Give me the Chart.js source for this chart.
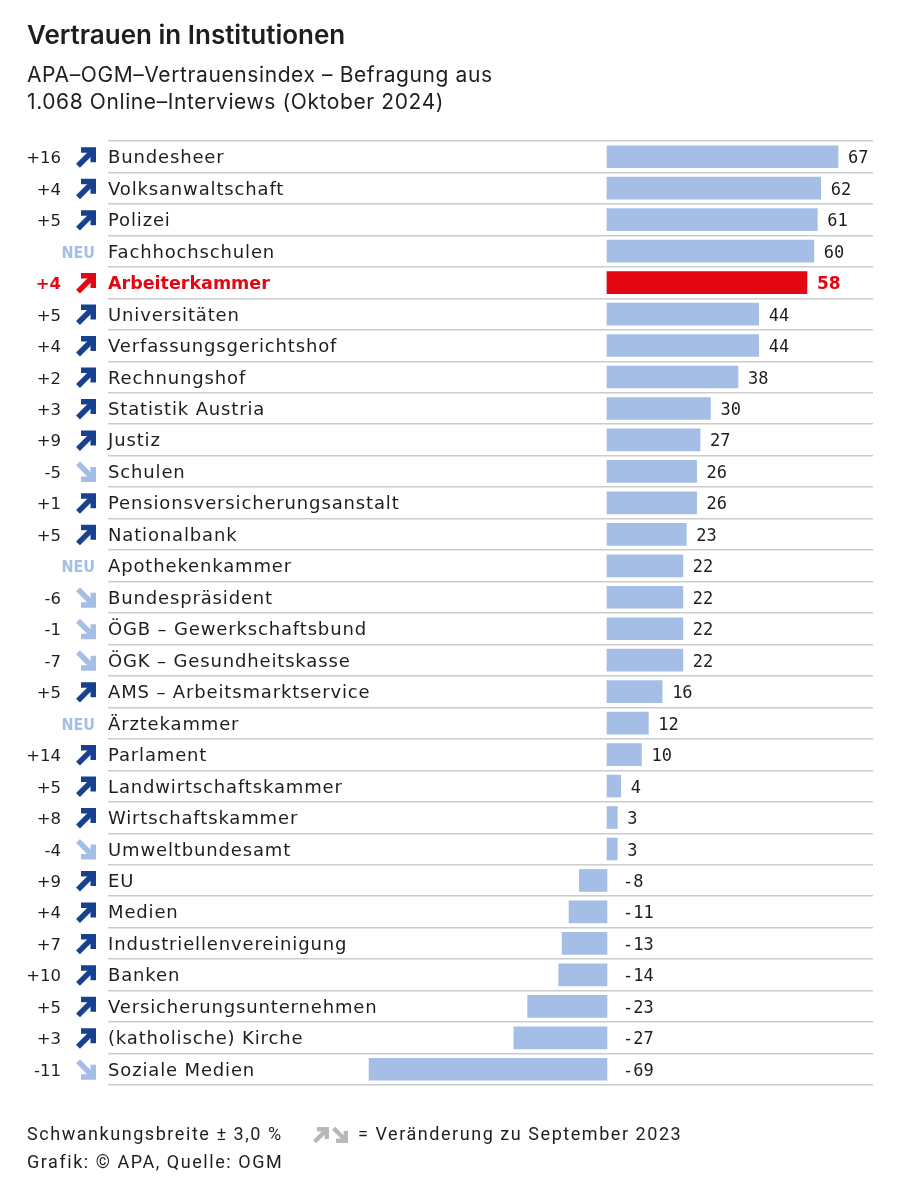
<!DOCTYPE html>
<html lang="de">
<head>
<meta charset="utf-8">
<title>Vertrauen in Institutionen</title>
<script src="https://cdn.jsdelivr.net/npm/chart.js@4.4.1/dist/chart.umd.min.js"></script>
<style>
  html, body { margin: 0; padding: 0; background: #fff; }
  #wrap { position: relative; width: 900px; height: 1197px; overflow: hidden; }
  #chart { position: absolute; left: 0; top: 0; }
  .txt { position: absolute; left: 27px; color: #1e1e1e; white-space: nowrap; }
  #title { top: 19px; font: 600 26px "Inter", sans-serif; letter-spacing: 0; }
  #sub { top: 61px; font: 400 21px/27px "Inter", sans-serif; letter-spacing: 0.6px; }
  .foot { font: 400 18px "Roboto", sans-serif; letter-spacing: 1.55px; }
  #foot1 { top: 1123px; }
  #foot2 { top: 1151px; }
  #foot3 { top: 1123px; left: 358px; }
</style>
</head>
<body>
<div id="wrap">
  <canvas id="chart" width="900" height="1197"></canvas>
  <div class="txt" id="title">Vertrauen in Institutionen</div>
  <div class="txt" id="sub">APA–OGM–Vertrauensindex – Befragung aus<br>1.068 Online–Interviews (Oktober 2024)</div>
  <div class="txt foot" id="foot1">Schwankungsbreite ± 3,0 %</div>
  <div class="txt foot" id="foot3">= Veränderung zu September 2023</div>
  <div class="txt foot" id="foot2">Grafik: © APA, Quelle: OGM</div>
</div>
<script>
// =============================
// Data
// =============================
const institutions = [
  "Bundesheer", "Volksanwaltschaft", "Polizei", "Fachhochschulen", "Arbeiterkammer",
  "Universitäten", "Verfassungsgerichtshof", "Rechnungshof", "Statistik Austria", "Justiz",
  "Schulen", "Pensionsversicherungsanstalt", "Nationalbank", "Apothekenkammer", "Bundespräsident",
  "ÖGB – Gewerkschaftsbund", "ÖGK – Gesundheitskasse", "AMS – Arbeitsmarktservice", "Ärztekammer", "Parlament",
  "Landwirtschaftskammer", "Wirtschaftskammer", "Umweltbundesamt", "EU", "Medien",
  "Industriellenvereinigung", "Banken", "Versicherungsunternehmen", "(katholische) Kirche", "Soziale Medien"
];
const trustIndex = [
  67, 62, 61, 60, 58, 44, 44, 38, 30, 27,
  26, 26, 23, 22, 22, 22, 22, 16, 12, 10,
  4, 3, 3, -8, -11, -13, -14, -23, -27, -69
];
const changes = [
  "+16", "+4", "+5", "NEU", "+4", "+5", "+4", "+2", "+3", "+9",
  "-5", "+1", "+5", "NEU", "-6", "-1", "-7", "+5", "NEU", "+14",
  "+5", "+8", "-4", "+9", "+4", "+7", "+10", "+5", "+3", "-11"
];
const highlight = "Arbeiterkammer";

// =============================
// Colours
// =============================
const RED = "#e30613";
const DARK_BLUE = "#17408f";
const LIGHT_BLUE = "#a4bee5";
const TEXT = "#1e1e1e";

const barColors = institutions.map(n => n === highlight ? RED : LIGHT_BLUE);

// thick diagonal arrow in a 20x20 box, top-left at (x, y)
function drawArrow(ctx, x, y, up, color, size = 20) {
  ctx.save();
  ctx.translate(x, y);
  ctx.scale(size / 20, size / 20);
  if (!up) { ctx.translate(0, 20); ctx.scale(1, -1); }
  ctx.strokeStyle = color;
  ctx.lineWidth = 5.5;
  ctx.lineCap = "butt";
  ctx.lineJoin = "miter";
  ctx.beginPath();
  ctx.moveTo(5, 2.75);
  ctx.lineTo(17.25, 2.75);
  ctx.lineTo(17.25, 15);
  ctx.stroke();
  ctx.beginPath();
  ctx.moveTo(2, 18.5);
  ctx.lineTo(15.5, 5);
  ctx.stroke();
  ctx.restore();
}

// =============================
// Labels plugin
// =============================
const rowLabels = {
  id: "rowLabels",
  afterDatasetsDraw(chart) {
    const ctx = chart.ctx;
    const yScale = chart.scales.y;
    const meta = chart.getDatasetMeta(0);
    const zeroX = chart.scales.x.getPixelForValue(0);

    institutions.forEach((name, i) => {
      const yc = yScale.getPixelForValue(i);
      const isHi = name === highlight;
      const col = isHi ? RED : TEXT;
      const ch = changes[i];

      ctx.save();
      ctx.textBaseline = "alphabetic";

      // change value + arrow
      if (ch === "NEU") {
        ctx.font = "bold 16px 'DejaVu Sans Condensed', 'DejaVu Sans', sans-serif";
        ctx.fillStyle = LIGHT_BLUE;
        ctx.textAlign = "right";
        ctx.fillText("NEU", 95, yc + 6.5);
      } else {
        ctx.font = (isHi ? "bold " : "") + "16.5px 'DejaVu Sans', sans-serif";
        ctx.fillStyle = col;
        ctx.textAlign = "right";
        ctx.fillText(ch, 61, yc + 6.5);
        const up = ch.startsWith("+");
        const arrowCol = isHi ? RED : (up ? DARK_BLUE : LIGHT_BLUE);
        drawArrow(ctx, 76, yc - 9.5, up, arrowCol);
      }

      // institution name
      if (isHi) {
        ctx.font = "bold 17.5px 'DejaVu Sans', sans-serif";
        ctx.letterSpacing = "0px";
      } else {
        ctx.font = "18px 'DejaVu Sans', sans-serif";
        ctx.letterSpacing = "0.85px";
      }
      ctx.fillStyle = col;
      ctx.textAlign = "left";
      ctx.fillText(name, 108, yc + 6.5);
      ctx.letterSpacing = "0px";

      // value
      const v = trustIndex[i];
      const bar = meta.data[i];
      const vx = v >= 0 ? bar.x + 10 : zeroX + 16;
      ctx.font = isHi ? "bold 17px 'DejaVu Sans', sans-serif" : "17px 'DejaVu Sans Mono', monospace";
      ctx.fillStyle = col;
      ctx.fillText(String(v), vx, yc + 6.5);
      ctx.restore();
    });

    // legend arrows in footer
    drawArrow(ctx, 313, 1127, true, "#b8b8b8", 16);
    drawArrow(ctx, 332, 1127, false, "#b8b8b8", 16);
  }
};

// =============================
// Chart
// =============================
new Chart(document.getElementById("chart"), {
  type: "bar",
  data: {
    labels: institutions,
    datasets: [{
      data: trustIndex,
      backgroundColor: barColors,
      borderWidth: 0,
      barThickness: 22
    }]
  },
  options: {
    indexAxis: "y",
    responsive: false,
    animation: false,
    layout: { padding: { left: 108, right: 27, top: 141, bottom: 112 } },
    plugins: { legend: { display: false }, tooltip: { enabled: false } },
    scales: {
      x: {
        display: false,
        min: -144.7,
        max: 77.15
      },
      y: {
        display: true,
        offset: true,
        border: { display: false },
        ticks: { display: false },
        grid: {
          offset: true,
          drawTicks: false,
          color: "#cccccc",
          lineWidth: 1.5
        }
      }
    }
  },
  plugins: [rowLabels]
});
</script>
</body>
</html>
